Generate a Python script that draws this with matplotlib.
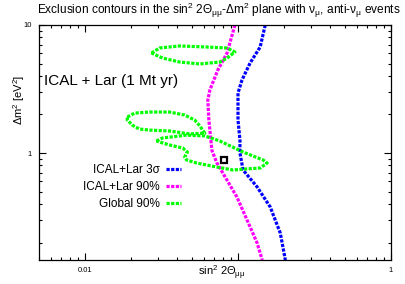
import matplotlib
matplotlib.use("Agg")
import matplotlib.pyplot as plt
from matplotlib.ticker import LogLocator, FixedLocator, FixedFormatter, NullFormatter

plt.rcParams['font.family'] = ['Liberation Sans', 'DejaVu Sans']
plt.rcParams['mathtext.default'] = 'regular'

# ---- data ----
mag_x = [0.0955, 0.0848, 0.0738, 0.0655, 0.0635, 0.0645, 0.0655, 0.0675, 0.0728, 0.0796, 0.0984, 0.1146, 0.1334, 0.144]
mag_y = [10.0, 6.04, 4.45, 3.11, 2.59, 1.81, 1.51, 1.05, 0.835, 0.698, 0.453, 0.300, 0.198, 0.146]

blue_x = [0.1507, 0.1396, 0.120, 0.1062, 0.100, 0.100, 0.103, 0.103, 0.1079, 0.1334, 0.1624, 0.189, 0.204]
blue_y = [10.0, 6.73, 5.05, 3.72, 2.94, 1.81, 1.26, 1.0, 0.737, 0.543, 0.379, 0.237, 0.146]

g1_x = [0.0272, 0.0307, 0.0415, 0.0625, 0.0848, 0.0955, 0.0848, 0.0762, 0.0562, 0.0415, 0.0321, 0.0272]
g1_y = [6.04, 6.61, 6.86, 6.73, 6.61, 6.15, 5.52, 5.14, 4.96, 5.14, 5.52, 6.04]

g2_x = [0.0189, 0.0211, 0.0264, 0.0357, 0.0448, 0.0521, 0.0562, 0.0607, 0.0483, 0.0357, 0.0264, 0.0226, 0.0204, 0.0189, 0.0189]
g2_y = [1.91, 2.05, 2.09, 2.09, 1.98, 1.81, 1.63, 1.43, 1.41, 1.486, 1.51, 1.54, 1.65, 1.81, 1.91]

g3_x = [0.0293, 0.0321, 0.0461, 0.0607, 0.0762, 0.1079, 0.146, 0.155, 0.1396, 0.0927, 0.0728, 0.0537, 0.0461, 0.0448, 0.0467, 0.0435, 0.0357, 0.0293]
g3_y = [1.24, 1.31, 1.38, 1.36, 1.24, 1.018, 0.882, 0.835, 0.764, 0.737, 0.777, 0.835, 0.882, 0.930, 1.018, 1.094, 1.155, 1.24]

best_x = [0.081]
best_y = [0.88]

labels = ['ICAL+Lar 3σ', 'ICAL+Lar 90%', 'Global 90%']
colors = ['#0000ff', '#ff00ff', '#00ff00']

fig = plt.figure(figsize=(4.05, 2.84), dpi=100)
ax = fig.add_axes([0.0963, 0.0845, 0.869, 0.8275])
ax.set_xscale('log')
ax.set_yscale('log')
ax.set_xlim(0.005, 1)
ax.set_ylim(0.146, 10)

lw = 2.3
dash = (1.0, 0.45)
ax.plot(blue_x, blue_y, color=colors[0], lw=lw, dashes=dash, label=labels[0])
ax.plot(mag_x, mag_y, color=colors[1], lw=lw, dashes=dash, label=labels[1])
ax.plot(g1_x, g1_y, color=colors[2], lw=lw, dashes=dash, label=labels[2])
ax.plot(g2_x, g2_y, color=colors[2], lw=lw, dashes=dash)
ax.plot(g3_x, g3_y, color=colors[2], lw=lw, dashes=dash)
ax.plot(best_x, best_y, marker='s', ms=5, mfc='white', mec='black', mew=1.6, ls='none')

leg = ax.legend(loc='upper right', bbox_to_anchor=(0.404, 0.41), markerfirst=False,
                frameon=False, fontsize=8.5, handlelength=1.3, handletextpad=0.5,
                labelspacing=0.45, borderaxespad=0, borderpad=0)

ax.text(0.015, 0.76, 'ICAL + Lar (1 Mt yr)', transform=ax.transAxes, fontsize=11,
        ha='left', va='center')

# ticks
ax.xaxis.set_major_locator(FixedLocator([0.01, 0.1, 1]))
ax.xaxis.set_major_formatter(FixedFormatter(['0.01', '', '1']))
ax.xaxis.set_minor_locator(LogLocator(base=10, subs=range(2, 10)))
ax.xaxis.set_minor_formatter(NullFormatter())
ax.yaxis.set_major_locator(FixedLocator([1, 10]))
ax.yaxis.set_major_formatter(FixedFormatter(['1', '10']))
ax.yaxis.set_minor_locator(LogLocator(base=10, subs=range(2, 10)))
ax.yaxis.set_minor_formatter(NullFormatter())
ax.tick_params(which='both', direction='in', top=True, right=True, labelsize=5.5,
               width=0.8, color='black')
ax.tick_params(which='major', length=5, pad=5)
ax.tick_params(which='minor', length=2.5)
for s in ax.spines.values():
    s.set_linewidth(0.9)

ax.set_xlabel(r'sin$^2$ 2$\Theta_{\mu\mu}$', fontsize=8)
ax.xaxis.set_label_coords(0.52, -0.015)
ax.xaxis.label.set_va('top')
ax.set_ylabel(r'$\Delta$m$^2$ [eV$^2$]', fontsize=8)
ax.yaxis.set_label_coords(-0.035, 0.68)

fig.text(0.54, 0.962, r'Exclusion contours in the sin$^2$ 2$\Theta_{\mu\mu}$-$\Delta$m$^2$ plane with $\nu_\mu$, anti-$\nu_\mu$ events',
         ha='center', va='center', fontsize=8.6)

fig.savefig('out.png', dpi=100)
